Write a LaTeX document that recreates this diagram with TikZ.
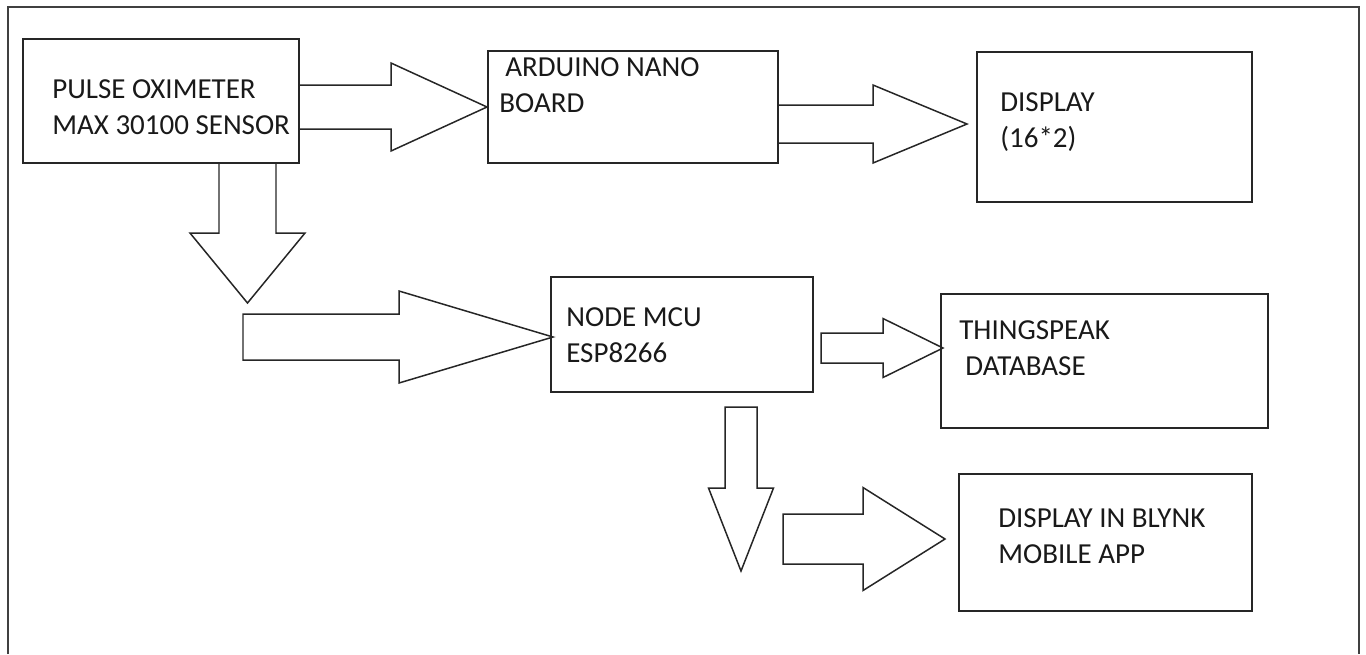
\documentclass[tikz,border=0pt]{standalone}
\usepackage{fontspec}
\setmainfont{Carlito}
\newcommand\diagpx{0.02cm}
\newcommand\diagtextstyle{\fontsize{16.5}{20.5}\selectfont}
\newcommand\diagbox[5]{
  \node[diagblock, minimum width={(#4 - #2) * \diagpx}, minimum height={(#5 - #3) * \diagpx}] (#1) at ({(#2 + #4) * 0.5}, {(#3 + #5) * 0.5}) {} ;
}
\newcommand\diagtext[4]{
  \node[diaglabel] (#1) at (#2, #3) {#4} ;
}
\newcommand\diagarrowr[6]{
  \draw[diagarrow] (#1, #4 - #5) -- (#2, #4 - #5) -- (#2, #4 - #6) -- (#3, #4) -- (#2, #4 + #6) -- (#2, #4 + #5) -- (#1, #4 + #5) -- cycle ;
}
\newcommand\diagarrowd[6]{
  \draw[diagarrow] (#4 - #5, #1) -- (#4 - #5, #2) -- (#4 - #6, #2) -- (#4, #3) -- (#4 + #6, #2) -- (#4 + #5, #2) -- (#4 + #5, #1) -- cycle ;
}
\begin{document}
\begin{tikzpicture}[x=\diagpx, y=-\diagpx,
    diagblock/.style={draw=black!85, line width=1.1pt, inner sep=0pt},
    diaglabel/.style={anchor=base west, inner sep=0pt, font=\diagtextstyle, text=black!90},
    diagarrow/.style={draw=black!85, line width=0.85pt, line join=miter},
    diagframe/.style={draw=black!75, line width=1.3pt}]
      \useasboundingbox (0, 0) rectangle (1366, 654) ;
      \draw[diagframe] (8, 654) -- (8, 7) -- (1359, 7) -- (1359, 654) ;
      \diagbox{pulse}{23}{39}{299}{163}
      \diagbox{arduino}{488}{51}{778}{163}
      \diagbox{display}{977}{52}{1252}{202}
      \diagbox{nodemcu}{551}{277}{813}{392}
      \diagbox{thingspeak}{941}{294}{1268}{428}
      \diagbox{blynk}{959}{474}{1252}{611}
      \diagtext{pulsea}{52}{98}{PULSE OXIMETER}
      \diagtext{pulseb}{52}{134}{MAX 30100 SENSOR}
      \diagtext{arduinoa}{505}{76}{ARDUINO NANO}
      \diagtext{arduinob}{499}{112}{BOARD}
      \diagtext{displaya}{1000}{111}{DISPLAY}
      \diagtext{displayb}{1000}{147}{(16*2)}
      \diagtext{nodemcua}{566}{326}{NODE MCU}
      \diagtext{nodemcub}{566}{362}{ESP8266}
      \diagtext{thingspeaka}{959}{339}{THINGSPEAK}
      \diagtext{thingspeakb}{965}{375}{DATABASE}
      \diagtext{blynka}{998}{527}{DISPLAY IN BLYNK}
      \diagtext{blynkb}{998}{563}{MOBILE APP}
      \diagarrowr{299}{391}{487}{107}{22}{44}
      \diagarrowr{778}{873}{967}{124}{19}{39}
      \diagarrowd{163}{233}{303}{247.5}{28.5}{57.5}
      \diagarrowr{243}{399}{553}{337}{23}{46}
      \diagarrowr{821}{883}{943}{348}{15}{29.5}
      \diagarrowd{407}{488}{571}{741}{16}{32.5}
      \diagarrowr{783}{863}{945}{539}{25}{51.5}
\end{tikzpicture}
\end{document}
